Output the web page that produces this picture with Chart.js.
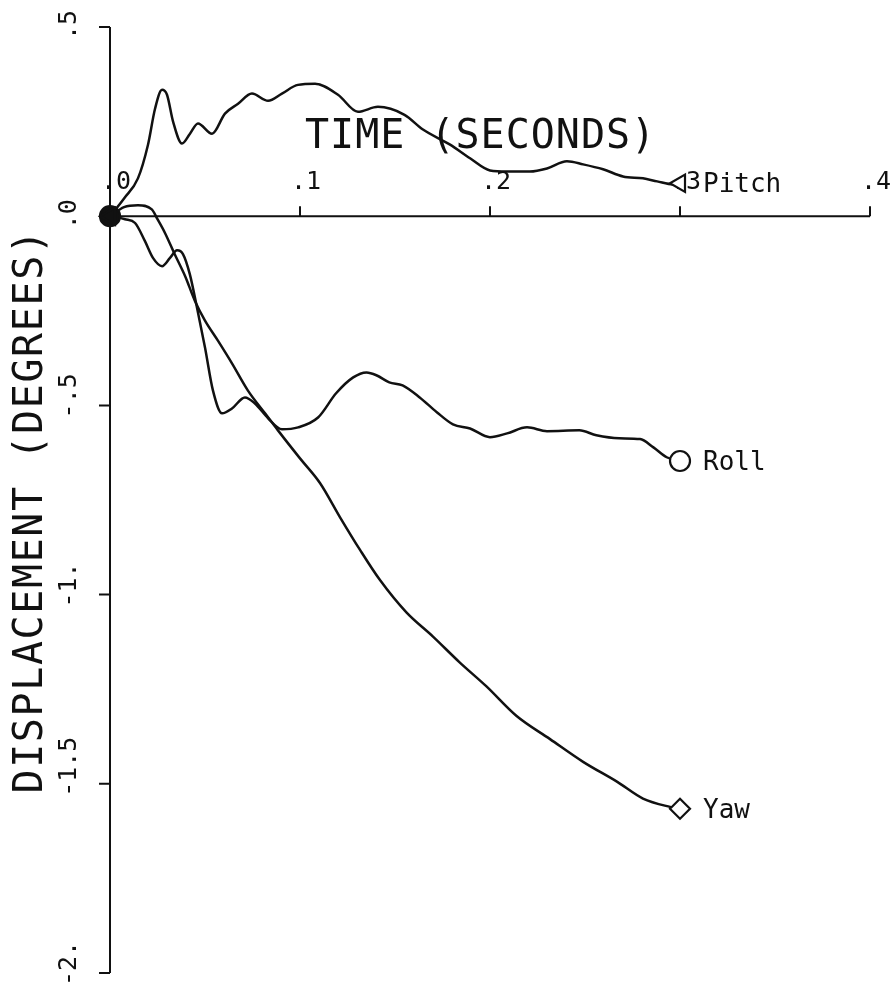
<!DOCTYPE html>
<html>
<head>
<meta charset="utf-8">
<script src="https://cdn.jsdelivr.net/npm/chart.js@4.4.1/dist/chart.umd.min.js"></script>
<style>
  html, body { margin: 0; padding: 0; background: #fff; }
  #wrap { width: 893px; height: 992px; position: relative; }
</style>
</head>
<body>
<div id="wrap"><canvas id="chart"></canvas></div>
<script>
"use strict";

// data (time in seconds, displacement in degrees)
const pitchT = [0, .0074, .0147, .020, .0237, .0274, .030, .0332, .0379, .0421, .0463, .0537, .0605, .0674, .0747, .0832, .0905, .0989, .1079, .12, .1305, .141, .155, .1647, .179, .1895, .2, .209, .221, .23, .2405, .249, .2595, .27, .2805, .288, .2963, .3];
const pitchV = [0, .047, .100, .189, .284, .334, .321, .250, .192, .218, .245, .218, .271, .297, .324, .305, .324, .347, .350, .321, .276, .289, .268, .229, .189, .153, .121, .118, .118, .126, .145, .137, .124, .105, .1, .092, .084, .087];

const rollT = [0, .0079, .0132, .0184, .0226, .0274, .0316, .0353, .0384, .042, .0458, .05, .0542, .059, .0642, .071, .0763, .0832, .0905, .099, .1095, .119, .128, .135, .1405, .147, .154, .163, .172, .1805, .1895, .2, .209, .2195, .23, .247, .256, .268, .279, .286, .293, .3];
const rollV = [0, -.008, -.018, -.066, -.11, -.132, -.11, -.09, -.1, -.153, -.242, -.347, -.461, -.521, -.508, -.479, -.495, -.534, -.563, -.558, -.532, -.468, -.426, -.413, -.421, -.439, -.447, -.479, -.518, -.55, -.561, -.584, -.574, -.558, -.568, -.566, -.579, -.587, -.589, -.611, -.637, -.647];

const yawT = [0, .0074, .0147, .022, .025, .029, .034, .0395, .0447, .05, .0568, .0642, .0726, .0816, .0884, .1, .1105, .121, .1316, .142, .156, .17, .184, .198, .214, .2316, .249, .267, .2805, .2947, .3];
const yawV = [0, .024, .029, .018, -.008, -.045, -.1, -.158, -.224, -.276, -.329, -.389, -.461, -.521, -.566, -.64, -.705, -.795, -.882, -.961, -1.047, -1.111, -1.179, -1.242, -1.321, -1.382, -1.442, -1.495, -1.539, -1.561, -1.566];

const seriesNames = ["Pitch", "Roll", "Yaw"];

const xTicks = [0, .1, .2, .3, .4];
const xTickLabels = [".0", ".1", ".2", ".3", ".4"];
const yTicks = [.5, 0, -.5, -1, -1.5, -2];
const yTickLabels = [".5", ".0", "-.5", "-1.", "-1.5", "-2."];

const xTitle = "TIME (SECONDS)";
const yTitle = "DISPLACEMENT (DEGREES)";

const ink = "#111";
const mono = '"DejaVu Sans Mono", "Liberation Mono", monospace';

function toPoints(ts, vs) {
  return ts.map((t, i) => ({ x: t, y: vs[i] }));
}

function endMarker(filledR, endR) {
  return (c) => {
    const n = c.dataset.data.length;
    if (c.dataIndex === 0) return filledR;
    if (c.dataIndex === n - 1) return endR;
    return 0;
  };
}

function series(label, ts, vs, style, rot) {
  return {
    label: label,
    data: toPoints(ts, vs),
    borderColor: ink,
    borderWidth: 2.5,
    cubicInterpolationMode: "monotone",
    pointStyle: style,
    rotation: rot,
    pointRadius: endMarker(10, 10),
    pointBorderWidth: 2.2,
    pointBorderColor: ink,
    pointBackgroundColor: (c) => (c.dataIndex === 0 ? ink : "#fff"),
    clip: false
  };
}

// axes drawn plotter style: x axis through zero, ticks inside, rotated y labels
const plotterAxes = {
  id: "plotterAxes",
  beforeDatasetsDraw(chart) {
    const { ctx, scales: { x, y } } = chart;
    const x0 = x.getPixelForValue(0);
    const y0 = y.getPixelForValue(0);
    ctx.save();
    ctx.strokeStyle = ink;
    ctx.fillStyle = ink;
    ctx.lineWidth = 2;

    ctx.beginPath();
    ctx.moveTo(x0, y.getPixelForValue(yTicks[0]));
    ctx.lineTo(x0, y.getPixelForValue(yTicks[yTicks.length - 1]));
    yTicks.forEach((v) => {
      const py = y.getPixelForValue(v);
      ctx.moveTo(x0 - 11, py);
      ctx.lineTo(x0, py);
    });
    ctx.moveTo(x0, y0);
    ctx.lineTo(x.getPixelForValue(xTicks[xTicks.length - 1]), y0);
    xTicks.forEach((v) => {
      const px = x.getPixelForValue(v);
      ctx.moveTo(px, y0);
      ctx.lineTo(px, y0 - 10);
    });
    ctx.stroke();

    // tick labels
    ctx.font = "25px " + mono;
    ctx.textAlign = "left";
    ctx.textBaseline = "alphabetic";
    xTicks.forEach((v, i) => {
      ctx.fillText(xTickLabels[i], x.getPixelForValue(v) - 9, y0 - 27);
    });
    yTicks.forEach((v, i) => {
      ctx.save();
      ctx.translate(x0 - 34, y.getPixelForValue(v) + 13);
      ctx.rotate(-Math.PI / 2);
      ctx.fillText(yTickLabels[i], 0, 0);
      ctx.restore();
    });

    // axis titles
    ctx.font = "40px " + mono;
    ctx.letterSpacing = "1px";
    ctx.fillText(xTitle, 305, 148);
    ctx.save();
    ctx.letterSpacing = "1.6px";
    ctx.translate(42, 511);
    ctx.rotate(-Math.PI / 2);
    ctx.textAlign = "center";
    ctx.fillText(yTitle, 0, 0);
    ctx.restore();
    ctx.restore();
  },
  afterDatasetsDraw(chart) {
    const { ctx } = chart;
    ctx.save();
    ctx.fillStyle = ink;
    ctx.font = "26px " + mono;
    ctx.textAlign = "left";
    ctx.textBaseline = "middle";
    chart.data.datasets.forEach((ds, i) => {
      const meta = chart.getDatasetMeta(i);
      const last = meta.data[meta.data.length - 1];
      ctx.fillText(seriesNames[i], last.x + 23, last.y + 2);
    });
    ctx.restore();
  }
};

new Chart(document.getElementById("chart"), {
  type: "line",
  data: {
    datasets: [
      series(seriesNames[0], pitchT, pitchV, "triangle", -90),
      series(seriesNames[1], rollT, rollV, "circle", 0),
      series(seriesNames[2], yawT, yawV, "rectRot", 0)
    ]
  },
  options: {
    responsive: true,
    maintainAspectRatio: false,
    animation: false,
    layout: { padding: { left: 110, right: 23, top: 27, bottom: 19 } },
    scales: {
      x: { type: "linear", min: 0, max: .4, display: false },
      y: { type: "linear", min: -2, max: .5, display: false }
    },
    plugins: {
      legend: { display: false },
      tooltip: { enabled: false }
    }
  },
  plugins: [plotterAxes]
});
</script>
</body>
</html>
